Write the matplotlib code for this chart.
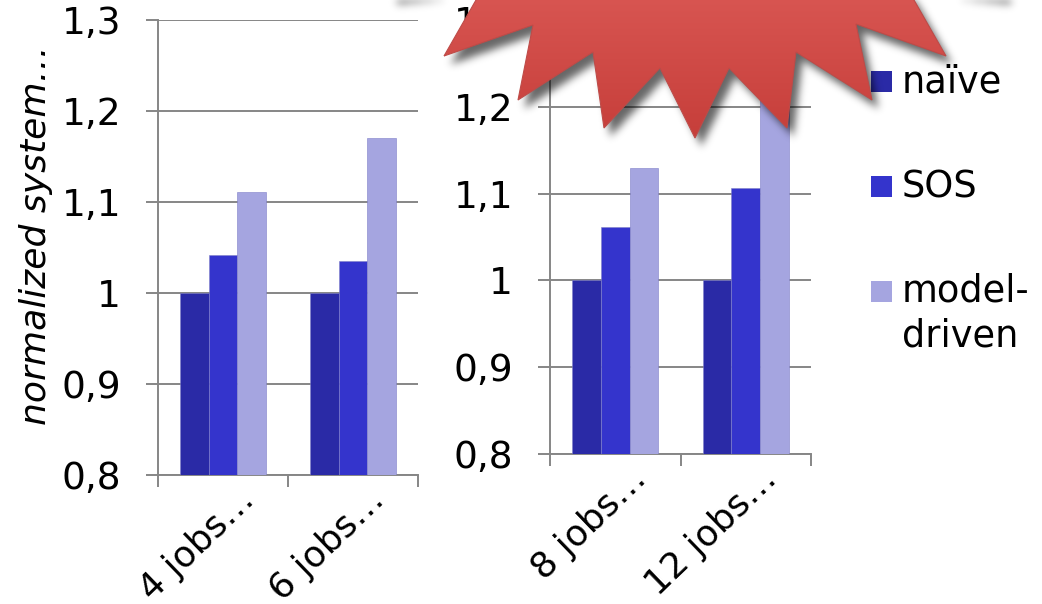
import matplotlib
matplotlib.use('Agg')
import matplotlib.pyplot as plt
from matplotlib.patches import Polygon, Rectangle
from matplotlib.path import Path
from matplotlib.transforms import ScaledTranslation
import numpy as np

plt.rcParams['font.family'] = 'DejaVu Sans'

W, H = 1042, 604

left_groups = ['4 jobs…', '6 jobs…']
right_groups = ['8 jobs…', '12 jobs…']
series_names = ['naïve', 'SOS', 'model-\ndriven']
colors = ['#2A2AA6', '#3434CC', '#A5A5E0']
left_values = [[1.0, 1.0], [1.042, 1.035], [1.111, 1.17]]
right_values = [[1.0, 1.0], [1.062, 1.106], [1.13, 1.25]]
y_ticks = [0.8, 0.9, 1.0, 1.1, 1.2, 1.3]
y_labels = ['0,8', '0,9', '1', '1,1', '1,2', '1,3']

# callout star, pixel coords of the original picture (top goes off the canvas)
star = [(444, 56), (533, 25), (518, 100), (593, 52), (604, 128), (660, 68),
        (695, 138), (729, 68), (787, 128), (796, 52), (872, 100), (856, 24),
        (946, 56), (914, 0), (906, -12), (1005, -4), (1005, -40), (390, -40),
        (390, -4), (484, -12), (476, 0)]

GRAY = '#868686'
FS = 27
LW = 1.4


def px_axes(fig, x0, x1, y_top, y_bottom, **kw):
    return fig.add_axes([x0 / W, 1 - y_bottom / H, (x1 - x0) / W, (y_bottom - y_top) / H], **kw)


def bars(ax, groups, values):
    x = np.arange(len(groups)) + 0.5
    width = 0.22
    for i, vals in enumerate(values):
        ax.bar(x + (i - 1) * width, np.array(vals) - 0.8, width, bottom=0.8, color=colors[i],
               edgecolor='#8080c8', linewidth=0.4, zorder=3)
    ax.set_xlim(0, len(groups))
    ax.set_ylim(0.8, 1.3)
    ax.set_yticks(y_ticks)
    ax.set_yticklabels(y_labels, fontsize=FS)
    ax.set_xticks(np.arange(len(groups) + 1))
    ax.set_xticklabels([])
    ax.set_xticks(x, minor=True)
    ax.set_xticklabels(groups, minor=True, fontsize=26, rotation=44, ha='right', va='top',
                       rotation_mode='anchor')
    ax.tick_params(axis='x', which='major', length=8.6, width=LW, color=GRAY)
    ax.tick_params(axis='x', which='minor', length=0, pad=5)
    ax.tick_params(axis='y', length=8.6, width=LW, color=GRAY, pad=18)
    # labels end a bit right of the group centre
    shift = ScaledTranslation(10 / 72, 0, fig.dpi_scale_trans)
    for lab in ax.get_xticklabels(minor=True):
        lab.set_transform(lab.get_transform() + shift)
    ax.grid(axis='y', color=GRAY, lw=LW, zorder=0)
    ax.set_axisbelow(True)
    for s in ['top', 'right']:
        ax.spines[s].set_visible(False)
    for s in ['left', 'bottom']:
        ax.spines[s].set_color(GRAY)
        ax.spines[s].set_linewidth(LW)


fig = plt.figure(figsize=(W / 100, H / 100), dpi=100)

ax1 = px_axes(fig, 158, 418, 20, 475)
bars(ax1, left_groups, left_values)
ax2 = px_axes(fig, 550, 811, 20, 454)
bars(ax2, right_groups, right_values)

fig.text(36 / W, 1 - 235 / H, 'normalized system…', rotation=90, style='italic', fontsize=26,
         ha='center', va='center')

# overlay in pixel coords for legend and star
over = fig.add_axes([0, 0, 1, 1], zorder=10)
over.axis('off')
over.patch.set_alpha(0)

legend_y = [82, 187, 292]
for name, c, y in zip(series_names, colors, legend_y):
    over.add_patch(Rectangle((871, y - 11), 21, 21, color=c, lw=0, zorder=1))
    over.text(902, y - 20 if '\n' in name else y, name, fontsize=26.5, ha='left',
              va='top' if '\n' in name else 'center', linespacing=1.3, zorder=1)

star_arr = np.array(star, dtype=float)

# blurred drop shadow, mask of the shifted star smoothed with a gaussian
xx, yy = np.meshgrid(np.arange(W), np.arange(H))
pts = np.column_stack([xx.ravel(), yy.ravel()])
mask = Path(star_arr + [6, 8]).contains_points(pts).reshape(H, W).astype(float)
kx = np.arange(-12, 13)
kernel = np.exp(-kx ** 2 / (2 * 4.0 ** 2))
kernel /= kernel.sum()
mask = np.apply_along_axis(lambda r: np.convolve(r, kernel, mode='same'), 0, mask)
mask = np.apply_along_axis(lambda r: np.convolve(r, kernel, mode='same'), 1, mask)
shadow = np.zeros((H, W, 4))
shadow[..., 3] = mask * 0.6
over.imshow(shadow, extent=(0, W, H, 0), aspect='auto', zorder=2, interpolation='nearest')

grad = np.linspace(0, 1, 256).reshape(-1, 1)
top_c = np.array([218, 88, 84]) / 255
bottom_c = np.array([198, 62, 58]) / 255
img = top_c + (bottom_c - top_c) * grad[..., None]
im = over.imshow(img, extent=(380, 1010, 138, -20), aspect='auto', zorder=3)
clip = Polygon(star_arr, closed=True, transform=over.transData, facecolor='none', edgecolor='none')
over.add_patch(clip)
im.set_clip_path(clip)
over.add_patch(Polygon(star_arr, closed=True, facecolor='none', edgecolor='#BE4B48', lw=0.8,
                       joinstyle='miter', zorder=4))
over.set_xlim(0, W)
over.set_ylim(H, 0)

fig.savefig('out.png', dpi=100)
